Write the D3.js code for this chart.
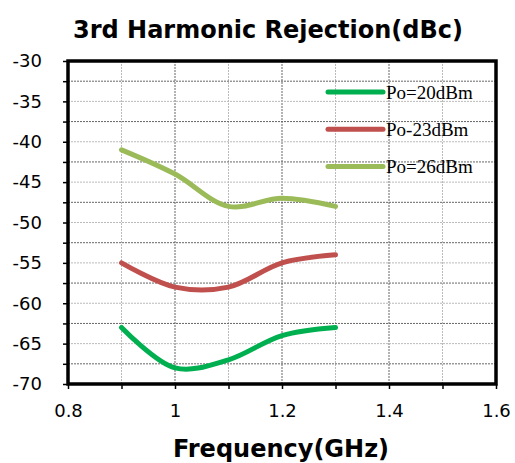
<!DOCTYPE html>
<html>
<head>
<meta charset="utf-8">
<script src="https://cdn.jsdelivr.net/npm/d3@7"></script>
<style>
  body { margin: 0; background: #fff; }
  svg { display: block; }
</style>
</head>
<body>
<svg id="chart"></svg>
<script>
// frequency points (GHz)
const freqs = [0.9, 1.0, 1.1, 1.2, 1.3];

// 3rd harmonic rejection (dBc) per output power
const po20 = [-63, -68, -67, -64, -63];
const po23 = [-55, -58, -58, -55, -54];
const po26 = [-41, -44, -48, -47, -48];

const seriesNames = ["Po=20dBm", "Po-23dBm", "Po=26dBm"];
const seriesColors = ["#00B050", "#C0504D", "#9BBB59"];

const xTicks = [0.8, 1.0, 1.2, 1.4, 1.6];
const yTicks = [-30, -35, -40, -45, -50, -55, -60, -65, -70];

const svgWidth = 515, svgHeight = 463;
const margin = { top: 61, right: 19, bottom: 79, left: 68 };
const width = svgWidth - margin.left - margin.right;
const height = svgHeight - margin.top - margin.bottom;

const svg = d3.select("#chart")
  .attr("width", svgWidth)
  .attr("height", svgHeight);

const g = svg.append("g")
  .attr("transform", `translate(${margin.left},${margin.top})`);

const x = d3.scaleLinear().domain([0.8, 1.6]).range([0, width]);
const y = d3.scaleLinear().domain([-70, -30]).range([height, 0]);

const labelFont = "Tahoma, 'DejaVu Sans', sans-serif";

// grid: x every 0.1, y every 2.5
const xGrid = d3.range(0.9, 1.6, 0.1).map(v => +v.toFixed(1));
const yGrid = d3.range(-67.5, -30, 2.5);

g.append("g").selectAll("line")
  .data(xGrid)
  .join("line")
  .attr("x1", d => x(d)).attr("x2", d => x(d))
  .attr("y1", 0).attr("y2", height)
  .attr("stroke", (d, i) => i % 2 === 1 ? "#666" : "#bbb")
  .attr("stroke-width", 1)
  .attr("stroke-dasharray", "2,1");

g.append("g").selectAll("line")
  .data(yGrid)
  .join("line")
  .attr("x1", 0).attr("x2", width)
  .attr("y1", d => y(d)).attr("y2", d => y(d))
  .attr("stroke", (d, i) => i % 2 === 0 ? "#666" : "#bbb")
  .attr("stroke-width", 1)
  .attr("stroke-dasharray", "2,1");

// axes
const xAxis = g.append("g")
  .attr("transform", `translate(0,${height})`)
  .call(d3.axisBottom(x)
    .tickValues(d3.range(0.8, 1.65, 0.1).map(v => +v.toFixed(1)))
    .tickSize(5)
    .tickFormat(d => xTicks.some(t => Math.abs(t - d) < 1e-6) ? d3.format("")(+d.toFixed(1)) : ""));
xAxis.select(".domain").remove();
xAxis.selectAll("line").attr("stroke", "#000").attr("stroke-width", 1.5);
xAxis.selectAll("text")
  .attr("dy", "1.4em")
  .style("font-family", labelFont)
  .style("font-size", "18px")
  .attr("fill", "#000");

const yAxis = g.append("g")
  .call(d3.axisLeft(y)
    .tickValues(d3.range(-70, -29, 2.5))
    .tickSize(5)
    .tickFormat(d => yTicks.includes(d) ? d : ""));
yAxis.select(".domain").remove();
yAxis.selectAll("line").attr("stroke", "#000").attr("stroke-width", 1.5);
yAxis.selectAll("text")
  .attr("x", -26)
  .style("font-family", labelFont)
  .style("font-size", "18px")
  .attr("fill", "#000");

// frame
g.append("rect")
  .attr("x", 0).attr("y", 0)
  .attr("width", width).attr("height", height)
  .attr("fill", "none")
  .attr("stroke", "#000")
  .attr("stroke-width", 3.5);

// series
const line = d3.line()
  .x(d => x(d[0]))
  .y(d => y(d[1]))
  .curve(d3.curveCatmullRom.alpha(0.5));

[po20, po23, po26].forEach((vals, i) => {
  g.append("path")
    .datum(freqs.map((f, j) => [f, vals[j]]))
    .attr("fill", "none")
    .attr("stroke", seriesColors[i])
    .attr("stroke-width", 5)
    .attr("stroke-linecap", "round")
    .attr("stroke-linejoin", "round")
    .attr("d", line);
});

// legend
const legend = svg.append("g").attr("transform", "translate(328,92)");
seriesNames.forEach((name, i) => {
  const row = legend.append("g").attr("transform", `translate(0,${i * 37.2})`);
  row.append("line")
    .attr("x1", 0).attr("x2", 55)
    .attr("stroke", seriesColors[i])
    .attr("stroke-width", 5)
    .attr("stroke-linecap", "round");
  row.append("text")
    .attr("x", 58)
    .attr("dy", "0.35em")
    .style("font-family", "'Liberation Serif', 'DejaVu Serif', serif")
    .style("font-size", "19px")
    .text(name);
});

// title
svg.append("text")
  .attr("x", 268)
  .attr("y", 38)
  .attr("text-anchor", "middle")
  .style("font-family", labelFont)
  .style("font-weight", "bold")
  .style("font-size", "24px")
  .text("3rd Harmonic Rejection(dBc)");

// x label
svg.append("text")
  .attr("x", 281)
  .attr("y", 457)
  .attr("text-anchor", "middle")
  .style("font-family", labelFont)
  .style("font-weight", "bold")
  .style("font-size", "24px")
  .text("Frequency(GHz)");
</script>
</body>
</html>
